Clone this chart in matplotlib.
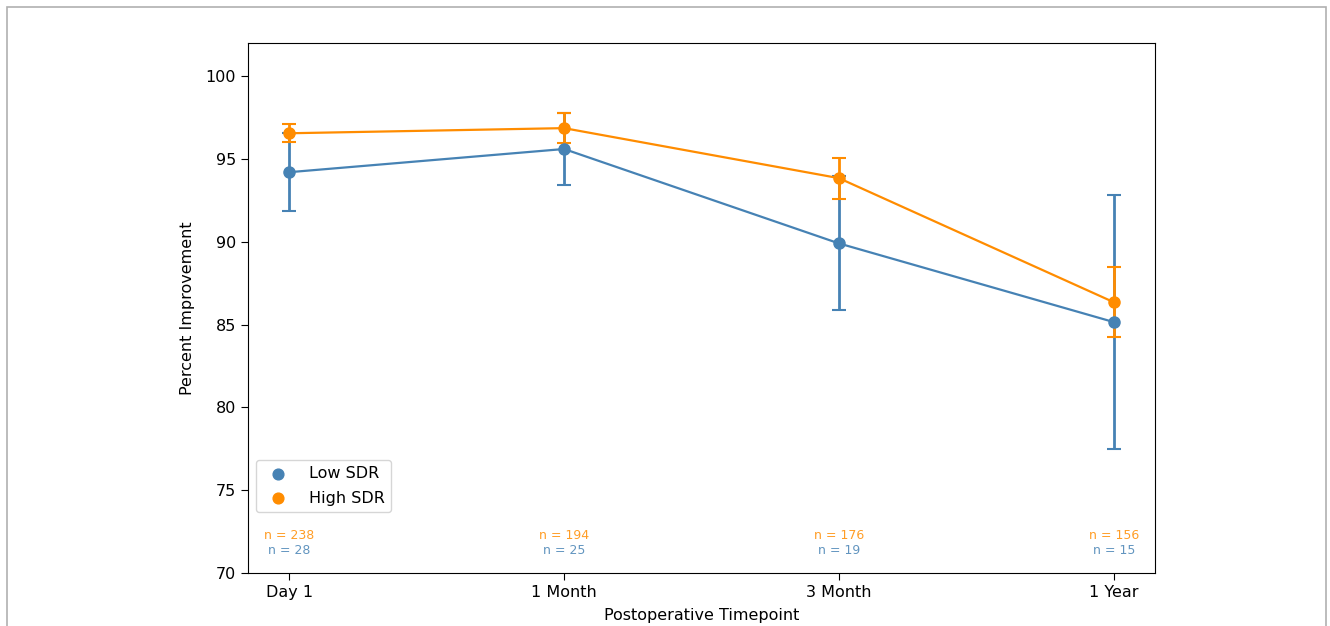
import numpy as np
import matplotlib
matplotlib.use('Agg')
import matplotlib.pyplot as plt
from matplotlib.patches import Rectangle

# data
timepoints = ['Day 1', '1 Month', '3 Month', '1 Year']
low_mean = [94.2, 95.6, 89.9, 85.15]
low_err = [2.35, 2.2, 4.05, 7.65]
high_mean = [96.55, 96.86, 93.84, 86.35]
high_err = [0.55, 0.9, 1.23, 2.1]
low_n = [28, 25, 19, 15]
high_n = [238, 194, 176, 156]

blue = 'steelblue'
orange = 'darkorange'

fig = plt.figure(figsize=(13.3, 6.26), dpi=100)
ax = fig.add_axes([0.1865, 0.0847, 0.6819, 0.8466])

x = np.arange(len(timepoints))

ax.errorbar(x, low_mean, yerr=low_err, color=blue, marker='o', markersize=8,
            linewidth=1.6, elinewidth=2, capsize=5, capthick=1.5, label='Low SDR')
ax.errorbar(x, high_mean, yerr=high_err, color=orange, marker='o', markersize=8,
            linewidth=1.6, elinewidth=2, capsize=5, capthick=1.5, label='High SDR')

# sample sizes along the bottom
for i in range(len(timepoints)):
    ax.text(x[i], 72.25, 'n = %d' % high_n[i], color=orange, fontsize=9,
            ha='center', va='center', alpha=0.85)
    ax.text(x[i], 71.35, 'n = %d' % low_n[i], color=blue, fontsize=9,
            ha='center', va='center', alpha=0.85)

ax.set_ylim(70, 102)
ax.set_xticks(x)
ax.set_xticklabels(timepoints)
ax.tick_params(labelsize=11.5, length=5)
ax.set_xlabel('Postoperative Timepoint', fontsize=11.5, labelpad=6)
ax.set_ylabel('Percent Improvement', fontsize=11.5, labelpad=8)

# legend shows just the markers
h1 = ax.scatter([], [], color=blue, s=60)
h2 = ax.scatter([], [], color=orange, s=60)
ax.legend([h1, h2], ['Low SDR', 'High SDR'], loc='lower left',
          bbox_to_anchor=(0.0, 0.1), fontsize=11.5, handletextpad=0.9,
          labelspacing=0.6)

# thin grey frame around the picture
frame = Rectangle((7 / 1330, -0.1), 1319 / 1330, 1.1 - 7 / 626, transform=fig.transFigure,
                  fill=False, edgecolor='#b0b0b0', linewidth=1.2, clip_on=False)
fig.patches.append(frame)

fig.savefig('out.png', dpi=100)
